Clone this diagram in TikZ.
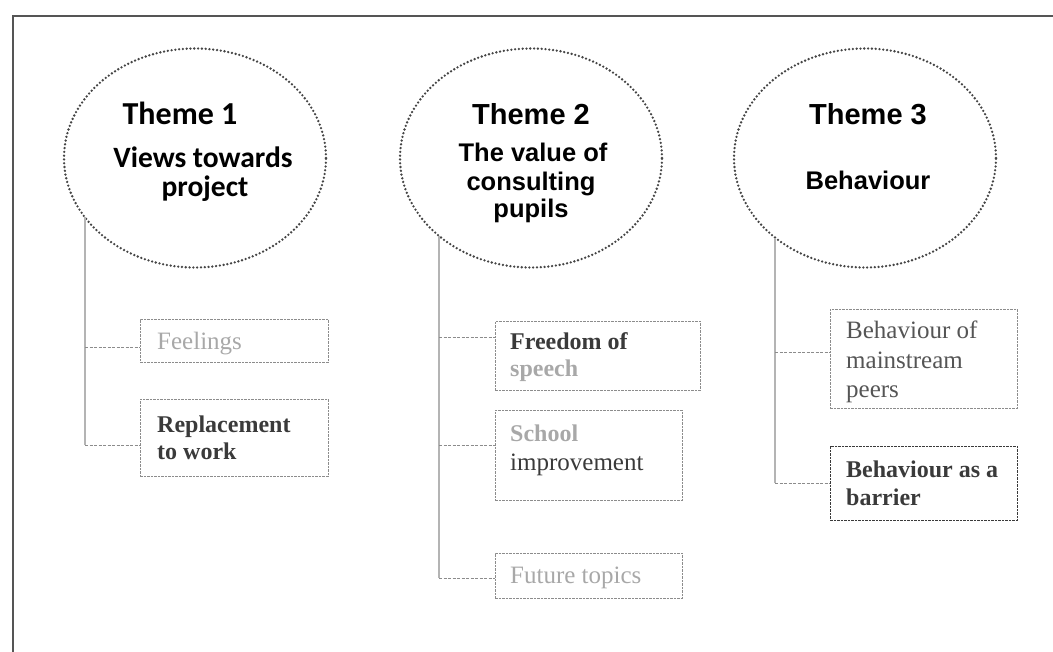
\documentclass[tikz,border=0pt]{standalone}
\usepackage{fontspec}
\setmainfont{Liberation Serif}
\newfontfamily\arialf{Liberation Sans}
\newfontfamily\calibf{Carlito}
\usetikzlibrary{shapes.geometric}
\definecolor{framec}{HTML}{555555}
\definecolor{dotc}{HTML}{454545}
\definecolor{lt}{HTML}{A8A8A8}
\definecolor{dk}{HTML}{3A3A3A}
\definecolor{md}{HTML}{555555}
\definecolor{boxc}{HTML}{8C8C8C}
\definecolor{linec}{HTML}{B4B4B4}
\tikzset{
  themeell/.style={ellipse, draw=dotc, line width=2.6pt, dash pattern=on 0pt off 3.8pt, line cap=round, minimum width=262pt, minimum height=219pt, inner sep=0pt},
  ttl/.style={anchor=base, font=\arialf\bfseries\fontsize{29}{32}\selectfont, text=black},
  sub/.style={anchor=base, font=\arialf\bfseries\fontsize{25.5}{28}\selectfont, text=black},
  ttlc/.style={anchor=base, font=\calibf\bfseries\fontsize{32}{36}\selectfont, text=black},
  subc/.style={anchor=base, font=\calibf\bfseries\fontsize{29.5}{32}\selectfont, text=black},
  topicbox/.style={draw=boxc, line width=0.7pt, dash pattern=on 2.5pt off 1pt, anchor=north west, inner sep=0pt},
  tx/.style={anchor=base west, font=\fontsize{25}{28}\selectfont, inner sep=0pt},
  txb/.style={anchor=base west, font=\bfseries\fontsize{24}{28}\selectfont, inner sep=0pt},
  trunk/.style={draw=linec, line width=1.1pt},
  branch/.style={draw=boxc, line width=0.7pt, dash pattern=on 3pt off 1.5pt}
}
\begin{document}
\begin{tikzpicture}[x=1pt,y=1pt]
\useasboundingbox (0,0) rectangle (1053,-652);
\draw[line width=2pt, framec] (13,-652) -- (13,-16) -- (1053,-16);

% ellipses
\node[themeell] (e1) at (195,-158) {};
\node[themeell] (e2) at (531,-158) {};
\node[themeell] (e3) at (865,-158) {};

% ellipse texts
\node[ttlc] (e1a) at (180,-125) {Theme 1};
\node[subc] (e1b) at (203,-168) {Views towards};
\node[subc] (e1c) at (205,-197) {project};

\node[ttl] (e2a) at (531,-125) {Theme 2};
\node[sub] (e2b) at (533,-162) {The value of};
\node[sub] (e2c) at (531,-191) {consulting};
\node[sub] (e2d) at (531,-218) {pupils};

\node[ttl] (e3a) at (868,-125) {Theme 3};
\node[sub] (e3b) at (868,-190) {Behaviour};

% boxes theme 1
\node[topicbox, minimum width=188pt, minimum height=43pt] (b1) at (140,-319) {};
\node[topicbox, minimum width=188pt, minimum height=77pt] (b2) at (140,-399) {};
\node[tx, text=lt] (b1t) at (157,-350) {Feelings};
\node[txb, text=dk] (b2t) at (157,-432) {Replacement};
\node[txb, text=dk] (b2u) at (157,-459) {to work};

% boxes theme 2
\node[topicbox, minimum width=205pt, minimum height=69pt] (b3) at (495,-321) {};
\node[topicbox, minimum width=187pt, minimum height=90pt] (b4) at (495,-410) {};
\node[topicbox, minimum width=187pt, minimum height=45pt] (b5) at (495,-553) {};
\node[txb, text=dk] (b3t) at (510,-350) {Freedom of};
\node[txb, text=lt] (b3u) at (510,-377) {speech};
\node[txb, text=lt] (b4t) at (510,-442) {School};
\node[tx, text=dk] (b4u) at (510,-470) {improvement};
\node[tx, text=lt] (b5t) at (510,-583) {Future topics};

% boxes theme 3
\node[topicbox, minimum width=187pt, minimum height=99pt] (b6) at (830,-309) {};
\node[topicbox, draw=dk, minimum width=187pt, minimum height=74pt] (b7) at (830,-446) {};
\node[tx, text=md] (b6t) at (846,-339) {Behaviour of};
\node[tx, text=md] (b6u) at (846,-369) {mainstream};
\node[tx, text=md] (b6v) at (846,-398) {peers};
\node[txb, text=dk] (b7t) at (846,-477) {Behaviour as a};
\node[txb, text=dk] (b7u) at (846,-505) {barrier};

% connectors
\coordinate (c1) at (85,-217);
\coordinate (c2) at (439,-236);
\coordinate (c3) at (775,-238);
\coordinate (p1) at ([yshift=-7pt]b1.west);
\coordinate (p2) at ([yshift=-7pt]b2.west);
\coordinate (p3) at ([yshift=18pt]b3.west);
\coordinate (p4) at ([yshift=10pt]b4.west);
\coordinate (p5) at ([yshift=-2pt]b5.west);
\coordinate (p6) at ([yshift=6pt]b6.west);
\coordinate (p7) at (b7.west);

\draw[trunk] (c1) -- (c1 |- p2);
\draw[branch] (c1 |- p1) -- (p1);
\draw[branch] (c1 |- p2) -- (p2);

\draw[trunk] (c2) -- (c2 |- p5);
\draw[branch] (c2 |- p3) -- (p3);
\draw[branch] (c2 |- p4) -- (p4);
\draw[branch] (c2 |- p5) -- (p5);

\draw[trunk] (c3) -- (c3 |- p7);
\draw[branch] (c3 |- p6) -- (p6);
\draw[branch] (c3 |- p7) -- (p7);
\end{tikzpicture}
\end{document}
